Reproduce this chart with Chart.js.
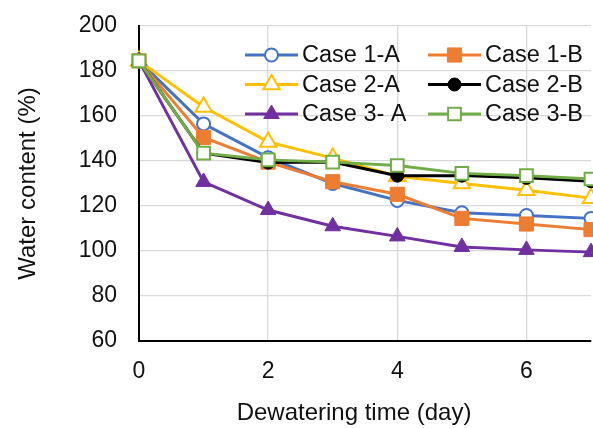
<!DOCTYPE html>
<html>
<head>
<meta charset="utf-8">
<script src="https://cdn.jsdelivr.net/npm/chart.js@4/dist/chart.umd.min.js"></script>
<style>
  html, body { margin: 0; padding: 0; background: #fff; }
  #wrap { width: 593px; height: 428px; }
</style>
</head>
<body>
<div id="wrap"><canvas id="chart" width="593" height="428"></canvas></div>
<script>
// Dewatering time (day) vs water content (%)
const days   = [0, 1, 2, 3, 4, 5, 6, 7];
const case1A = [184.5, 156.5, 141.5, 130.0, 122.5, 117.0, 115.8, 114.5];
const case1B = [184.5, 150.5, 139.5, 130.8, 125.2, 114.5, 112.0, 109.5];
const case2A = [184.5, 164.0, 148.5, 141.3, 133.2, 130.0, 127.0, 123.5];
const case2B = [184.5, 143.5, 139.3, 139.5, 133.5, 133.5, 132.5, 131.0];
const case3A = [184.5, 130.7, 118.2, 111.0, 106.5, 101.8, 100.5, 99.5];
const case3B = [184.5, 143.5, 140.5, 139.5, 138.0, 134.5, 133.5, 132.0];
const yTicks = [60, 80, 100, 120, 140, 160, 180, 200];
const xTitle = 'Dewatering time (day)';
const yTitle = 'Water content (%)';

const FONT = 'Liberation Sans, Arial, Helvetica, sans-serif';
const TXT  = '#111';

const series = [
  { label: 'Case 1-A', data: case1A, color: '#4472C4', style: 'circle',   r: 6.5, fill: '#fff', bw: 2 },
  { label: 'Case 1-B', data: case1B, color: '#ED7D31', style: 'rect',     r: 10,  fill: null,   bw: 1 },
  { label: 'Case 2-A', data: case2A, color: '#FFC000', style: 'triangle', r: 9.5, fill: '#fff', bw: 2 },
  { label: 'Case 2-B', data: case2B, color: '#000000', style: 'circle',   r: 6.5, fill: null,   bw: 1 },
  { label: 'Case 3- A', data: case3A, color: '#7030A0', style: 'triangle', r: 9,  fill: null,   bw: 1 },
  { label: 'Case 3-B', data: case3B, color: '#70AD47', style: 'rect',     r: 9,   fill: '#fff', bw: 2 },
];

// legend drawn inside the plot, two columns like the Excel original;
// x title drawn here too, the original is not centred on the plot area
const innerLegend = {
  id: 'innerLegend',
  afterDatasetsDraw(chart) {
    const ctx = chart.ctx;
    const cols = [245, 428];
    const rows = [55, 84.5, 114];
    ctx.save();
    chart.data.datasets.forEach((ds, i) => {
      const x = cols[i % 2], y = rows[Math.floor(i / 2)];
      ctx.strokeStyle = ds.borderColor;
      ctx.lineWidth = 3;
      ctx.beginPath();
      ctx.moveTo(x, y);
      ctx.lineTo(x + 53, y);
      ctx.stroke();
      ctx.fillStyle = ds.pointBackgroundColor;
      ctx.strokeStyle = ds.borderColor;
      ctx.lineWidth = ds.pointBorderWidth;
      Chart.helpers.drawPoint(ctx, {
        pointStyle: ds.pointStyle, radius: ds.pointRadius,
        borderWidth: ds.pointBorderWidth, rotation: 0,
      }, x + 26.5, y);
      ctx.fillStyle = TXT;
      ctx.font = '23.5px ' + FONT;
      ctx.textBaseline = 'middle';
      ctx.textAlign = 'left';
      ctx.fillText(ds.label, x + 57, y + 1);
    });
    ctx.font = '24px ' + FONT;
    ctx.textAlign = 'center';
    ctx.fillText(xTitle, 354, 413);
    ctx.restore();
  },
};

new Chart(document.getElementById('chart'), {
  type: 'line',
  data: {
    datasets: series.map((s, i) => ({
      label: s.label,
      data: days.map((d, k) => ({ x: d, y: s.data[k] })),
      borderColor: s.color,
      backgroundColor: s.color,
      borderWidth: 3,
      pointStyle: s.style,
      pointRadius: s.r,
      pointHoverRadius: s.r,
      pointBackgroundColor: s.fill || s.color,
      pointBorderColor: s.color,
      pointBorderWidth: s.bw,
      tension: 0,
      clip: false,
      order: series.length - i,
    })),
  },
  options: {
    responsive: false,
    animation: false,
    devicePixelRatio: 1,
    layout: { autoPadding: false, padding: { top: 26, right: 2, left: 0, bottom: 0 } },
    plugins: { legend: { display: false }, tooltip: { enabled: false } },
    scales: {
      x: {
        type: 'linear', min: 0, max: 7,
        grid: { color: '#d9d9d9', lineWidth: 1.3, drawTicks: false },
        border: { color: '#000', width: 2 },
        ticks: { stepSize: 2, includeBounds: false, padding: 17, color: TXT, font: { family: FONT, size: 23 } },
        title: { display: false },
        afterFit: s => { s.height = 87; s.paddingLeft = 0; s.paddingRight = 0; },
      },
      y: {
        min: yTicks[0], max: yTicks[yTicks.length - 1],
        afterBuildTicks: s => { s.ticks = yTicks.map(v => ({ value: v })); },
        grid: { color: '#d9d9d9', lineWidth: 1.3, drawTicks: false },
        border: { color: '#000', width: 2 },
        ticks: { padding: 22, color: TXT, font: { family: FONT, size: 23 } },
        title: { display: true, text: yTitle, color: TXT, font: { family: FONT, size: 24 }, padding: { top: 14, bottom: 0 } },
        afterFit: s => { s.width = 139; s.paddingTop = 0; s.paddingBottom = 0; },
      },
    },
  },
  plugins: [innerLegend],
});
</script>
</body>
</html>
